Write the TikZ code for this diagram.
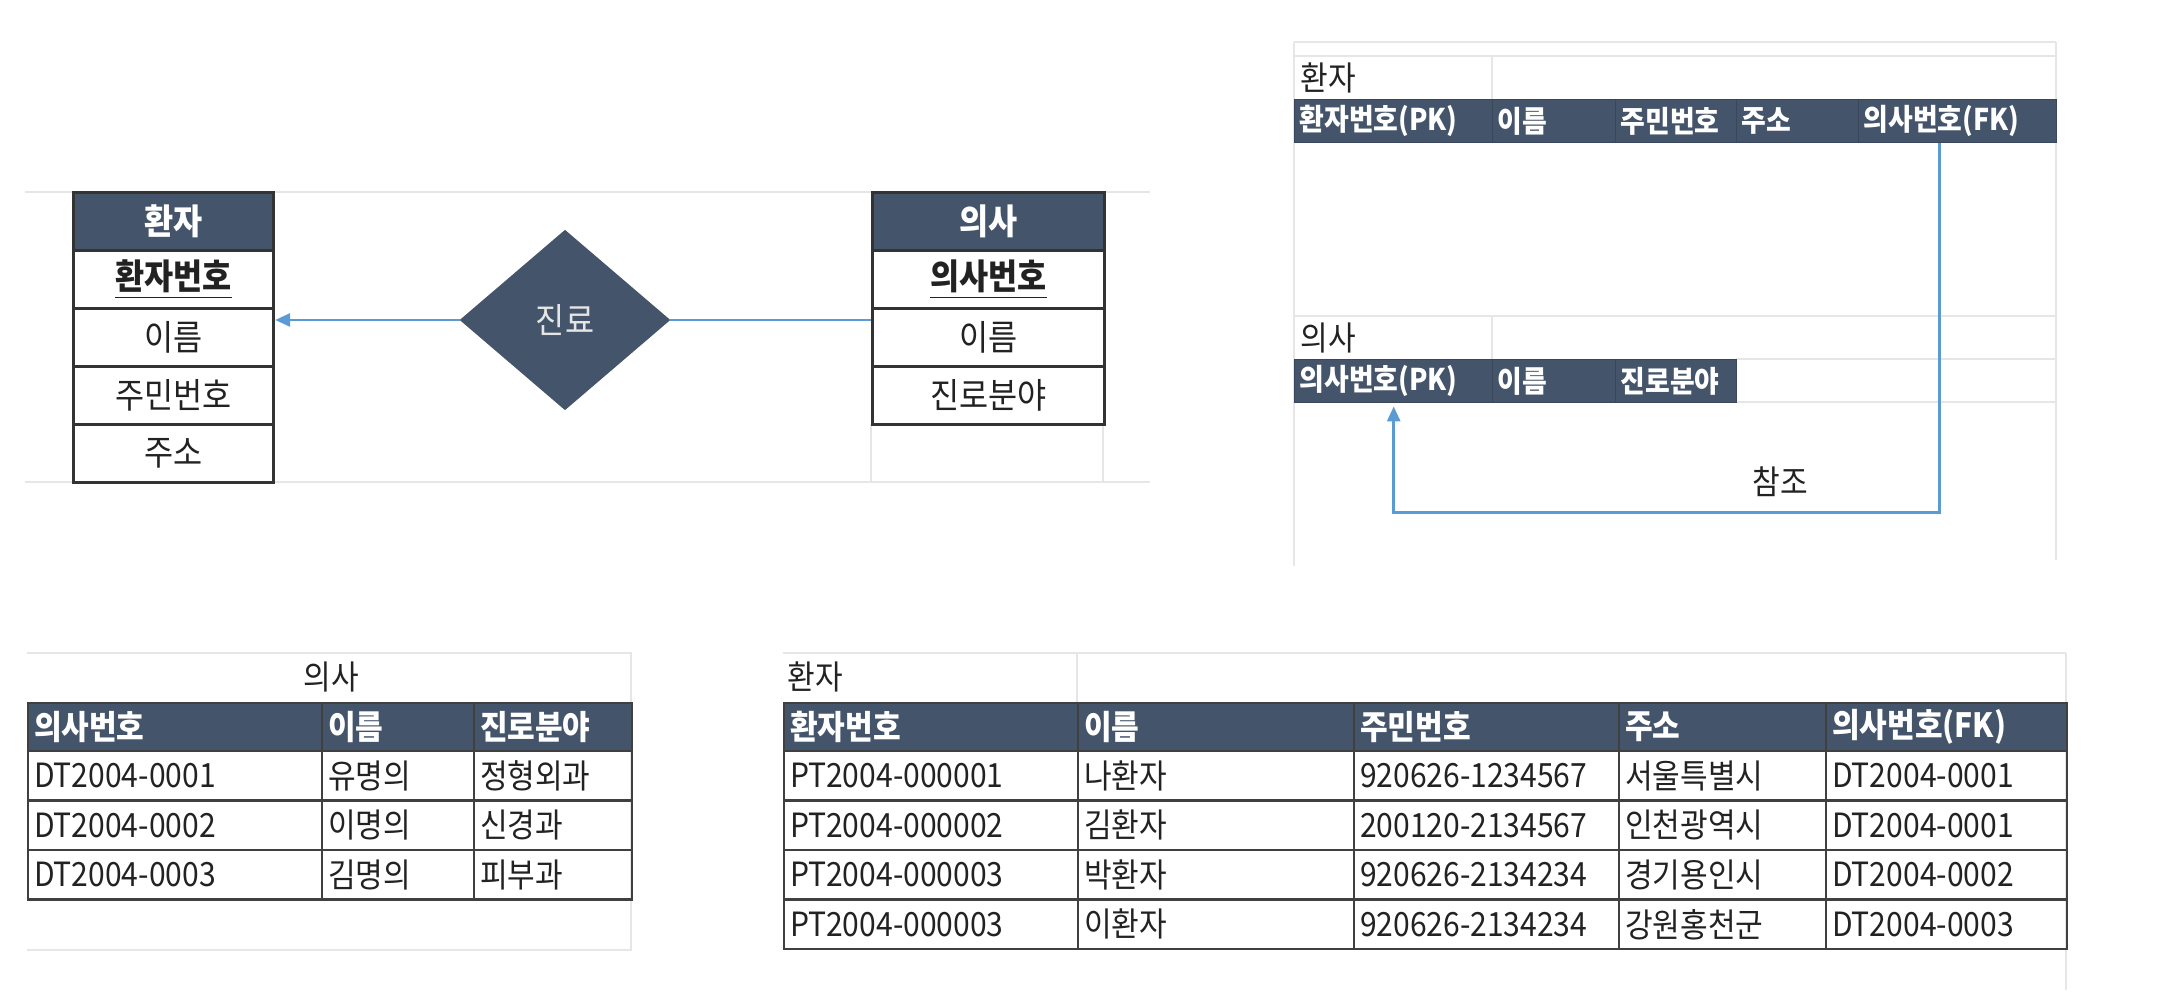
\documentclass[tikz,border=0pt]{standalone}
\usepackage{fontspec}
\setmainfont{Noto Sans CJK KR}[FakeStretch=0.9]
\usetikzlibrary{shapes.geometric,arrows.meta}
\definecolor{hdr}{HTML}{44546A}
\definecolor{refblue}{HTML}{5B9BD5}
\definecolor{gridc}{HTML}{E6E6E6}
\definecolor{ink}{HTML}{222222}
\tikzset{
  gridline/.style={draw=gridc,line width=0.5pt},
  erbox/.style={draw=black!80,line width=0.9pt,anchor=north west,inner sep=0pt,
    minimum width=#1*0.1mm,minimum height=5.8mm,text=ink,font=\fontsize{10}{12}\selectfont},
  erhead/.style={erbox=#1,fill=hdr,text=white,font=\fontsize{10}{12}\selectfont\bfseries},
  erkey/.style={erbox=#1,font=\fontsize{10}{12}\selectfont\bfseries},
  tcell/.style={draw=black!75,line width=0.6pt,anchor=north west,inner xsep=0.6mm,inner ysep=0pt,
    text width=#1*0.1mm-1.2mm,align=left,minimum height=4.95mm,text=ink,font=\fontsize{9.5}{11}\selectfont},
  thead/.style={tcell=#1,fill=hdr,text=white,minimum height=4.8mm,font=\fontsize{9.5}{11}\selectfont\bfseries},
  shead/.style={fill=hdr,draw=hdr!85!black,line width=0.4pt,anchor=north west,inner xsep=0.5mm,inner ysep=0pt,
    text width=#1*0.1mm-1mm,align=left,minimum height=4.3mm,text=white,font=\fontsize{8.5}{10}\selectfont\bfseries},
  ref/.style={draw=refblue,line width=0.8pt,->,>={Triangle[length=1.5mm,width=1.3mm]}},
  title/.style={inner sep=0pt,text=ink,font=\fontsize{9.5}{11}\selectfont}
}
\begin{document}
\begin{tikzpicture}[x=0.1mm,y=-0.1mm]
\useasboundingbox (0,0) rectangle (2160,996);
% spreadsheet grid
\draw[gridline] (25,192) -- (1150,192) (25,482) -- (1150,482) (871,424) -- (871,482) (1103,424) -- (1103,482);
\draw[gridline] (1294,42) -- (2056,42) (1294,56) -- (2056,56) (1492,56) -- (1492,99) (1294,316) -- (2056,316)
  (1492,316) -- (1492,359) (1736,359) -- (2056,359) (1294,402) -- (2056,402) (2056,42) -- (2056,560) (1294,42) -- (1294,566);
\draw[gridline] (27,653) -- (631,653) -- (631,950) -- (27,950) (783,653) -- (2066,653) (1077,653) -- (1077,702) (2066,653) -- (2066,990);
% E-R diagram
\node[erhead=200] (pt) at (72,191) {환자};
\node[erkey=200] (pt1) at (72,249) {\underline{환자번호}};
\foreach \r/\t in {2/이름,3/주민번호,4/주소}
  \node[erbox=200] (pt\r) at (72,191+\r*58) {\t};
\node[erhead=232] (dt) at (871,191) {의사};
\node[erkey=232] (dt1) at (871,249) {\underline{의사번호}};
\foreach \r/\t in {2/이름,3/진로분야}
  \node[erbox=232] (dt\r) at (871,191+\r*58) {\t};
\node[diamond,fill=hdr,draw=hdr,inner sep=0pt,minimum width=20.9mm,minimum height=17.9mm,
  text=white!90!black,font=\fontsize{10}{12}\selectfont] (rel) at (565,320) {진료};
\draw[ref] (rel.west) -- (rel.west -| pt2.east);
\draw[draw=refblue,line width=0.8pt] (rel.east) -- (rel.east -| dt2.west);
% relation schema
\node[title,anchor=west] (sp) at (1300,78) {환자};
\foreach \n/\x/\w/\t in {1/1294/198/환자번호(PK),2/1492/123/이름,3/1615/121/주민번호,4/1736/122/주소,5/1858/198/의사번호(FK)}
  \node[shead=\w] (s\n) at (\x,99) {\t};
\node[title,anchor=west] (sd) at (1300,338) {의사};
\foreach \n/\x/\w/\t in {1/1294/198/의사번호(PK),2/1492/123/이름,3/1615/121/진로분야}
  \node[shead=\w] (u\n) at (\x,359) {\t};
\draw[ref] ([xshift=-1.8mm]s5.south) -- ++(0,369) -| ([yshift=-0.3mm]u1.south);
\node[title] (refl) at (1780,482) {참조};
% table instances
\node[title] (dtitle) at (331,677) {의사};
\foreach \n/\x/\w/\t in {1/27/294/의사번호,2/321/152/이름,3/473/158/진로분야}
  \node[thead=\w] (d0\n) at (\x,702) {\t};
\foreach \r/\a/\b/\c in {1/DT2004-0001/유명의/정형외과,2/DT2004-0002/이명의/신경과,3/DT2004-0003/김명의/피부과}{
  \node[tcell=294] (d\r1) at (27,750+\r*49.5-49.5) {\a};
  \node[tcell=152] (d\r2) at (321,750+\r*49.5-49.5) {\b};
  \node[tcell=158] (d\r3) at (473,750+\r*49.5-49.5) {\c};
}
\node[title,anchor=west] (ptitle) at (787,677) {환자};
\foreach \n/\x/\w/\t in {1/783/294/환자번호,2/1077/276/이름,3/1353/265/주민번호,4/1618/207/주소,5/1825/241/의사번호(FK)}
  \node[thead=\w] (p0\n) at (\x,702) {\t};
\foreach \r/\a/\b/\c/\d/\e in {1/PT2004-000001/나환자/920626-1234567/서울특별시/DT2004-0001,
    2/PT2004-000002/김환자/200120-2134567/인천광역시/DT2004-0001,
    3/PT2004-000003/박환자/920626-2134234/경기용인시/DT2004-0002,
    4/PT2004-000003/이환자/920626-2134234/강원홍천군/DT2004-0003}{
  \node[tcell=294] (p\r1) at (783,750+\r*49.5-49.5) {\a};
  \node[tcell=276] (p\r2) at (1077,750+\r*49.5-49.5) {\b};
  \node[tcell=265] (p\r3) at (1353,750+\r*49.5-49.5) {\c};
  \node[tcell=207] (p\r4) at (1618,750+\r*49.5-49.5) {\d};
  \node[tcell=241] (p\r5) at (1825,750+\r*49.5-49.5) {\e};
}
\end{tikzpicture}
\end{document}
